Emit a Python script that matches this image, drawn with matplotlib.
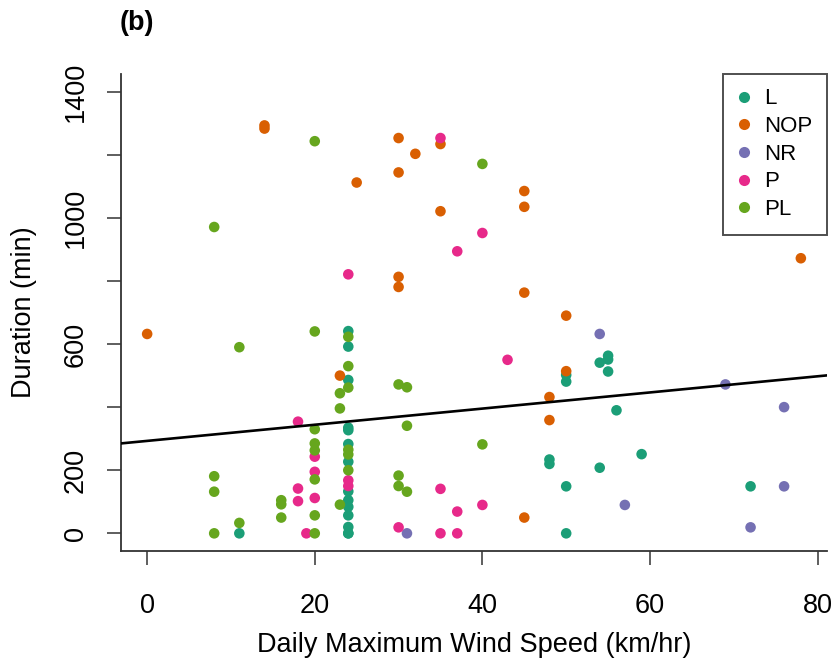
import numpy as np
import matplotlib
matplotlib.use("Agg")
import matplotlib.pyplot as plt
from matplotlib.lines import Line2D

plt.rcParams['font.family'] = ['Liberation Sans', 'DejaVu Sans']

# Wind speed (km/hr) and duration (min) for each group
L_wind = [11, 24, 24, 24, 24, 24, 24, 24, 24, 24, 24, 24, 24, 24, 24,
          48, 48, 50, 50, 50, 50, 54, 54, 55, 55, 55, 56, 59, 72]
L_dur = [0, 641, 592, 486, 335, 327, 283, 227, 133, 105, 84, 57, 20, 0, 0,
         234, 220, 502, 481, 149, 0, 541, 208, 563, 551, 513, 390, 251, 149]

NOP_wind = [0, 14, 14, 23, 25, 30, 30, 30, 30, 32, 35, 35, 45, 45, 45, 45,
            48, 48, 50, 50, 78]
NOP_dur = [632, 1293, 1283, 500, 1112, 1253, 1144, 813, 781, 1203, 1234, 1021,
           1085, 1035, 763, 50, 432, 359, 690, 514, 872]

NR_wind = [31, 54, 57, 69, 72, 76, 76]
NR_dur = [0, 632, 90, 472, 19, 400, 149]

P_wind = [18, 18, 18, 19, 20, 20, 20, 24, 24, 24, 30, 35, 35, 35, 37, 37, 37,
          40, 40, 43]
P_dur = [354, 142, 102, 0, 243, 195, 112, 821, 168, 150, 19, 1253, 141, 0,
         894, 69, 0, 952, 90, 550]

PL_wind = [8, 8, 8, 8, 11, 11, 16, 16, 16, 20, 20, 20, 20, 20, 20, 20, 20,
           23, 23, 23, 24, 24, 24, 24, 24, 24, 30, 30, 30, 31, 31, 31, 40, 40]
PL_dur = [971, 181, 132, 0, 590, 33, 105, 92, 50, 1243, 640, 330, 285, 263,
          171, 57, 0, 444, 396, 91, 623, 530, 462, 265, 250, 200, 472, 183, 150,
          463, 341, 132, 1171, 282]

groups = ['L', 'NOP', 'NR', 'P', 'PL']
colors = ['#1B9E77', '#D95F02', '#7570B3', '#E7298A', '#66A61E']
winds = [L_wind, NOP_wind, NR_wind, P_wind, PL_wind]
durs = [L_dur, NOP_dur, NR_dur, P_dur, PL_dur]

# fitted line (intercept, slope) as shown on the figure
fit_intercept = 293
fit_slope = 2.56

xticks = [0, 20, 40, 60, 80]
yticks = [0, 200, 400, 600, 800, 1000, 1200, 1400]
ytick_labels = ['0', '200', '', '600', '', '1000', '', '1400']

fig = plt.figure(figsize=(8.35, 6.67), dpi=100)
ax = fig.add_axes([121/835, 1 - 551/667, 706/835, 477/667])

for g, c, w, d in zip(groups, colors, winds, durs):
    ax.scatter(w, d, s=58, color=c, edgecolors='none', zorder=3)

xlim = (-3.12, 81.12)
xs = np.array(xlim)
ax.plot(xs, fit_intercept + fit_slope * xs, color='black', lw=1.9, zorder=4)

ax.set_xlim(*xlim)
ax.set_ylim(-56, 1456)

for side in ['top', 'right']:
    ax.spines[side].set_visible(False)
for side in ['left', 'bottom']:
    ax.spines[side].set_color('#333333')
    ax.spines[side].set_linewidth(1.3)

ax.set_xticks(xticks)
ax.set_yticks(yticks)
ax.set_yticklabels(ytick_labels, rotation=90, va='center')
ax.tick_params(axis='both', length=10, width=1.1, color='#333333',
               labelsize=19.5)
ax.tick_params(axis='x', pad=20)
ax.tick_params(axis='y', pad=13)

ax.set_xlabel('Daily Maximum Wind Speed (km/hr)', fontsize=19.5)
ax.xaxis.set_label_coords(0.5, (551 - 645) / 477)
ax.xaxis.label.set_va('center')
ax.set_ylabel('Duration (min)', fontsize=19.5)
ax.yaxis.set_label_coords((24 - 121) / 706, 0.5)
ax.yaxis.label.set_va('center')

fig.text(120/835, 1 - 23/667, '(b)', fontsize=19.5, fontweight='bold',
         ha='left', va='center')

handles = [Line2D([], [], marker='o', ls='none', color=c, markersize=8,
                  markeredgewidth=0) for c in colors]
leg = ax.legend(handles, groups, loc='upper right', fontsize=16,
                frameon=True, fancybox=False, borderaxespad=0,
                handlelength=0.55, handletextpad=0.65, labelspacing=0.3,
                borderpad=0.65)
leg.get_frame().set_edgecolor('#222222')
leg.get_frame().set_linewidth(1.4)

fig.savefig('out.png', dpi=100)
